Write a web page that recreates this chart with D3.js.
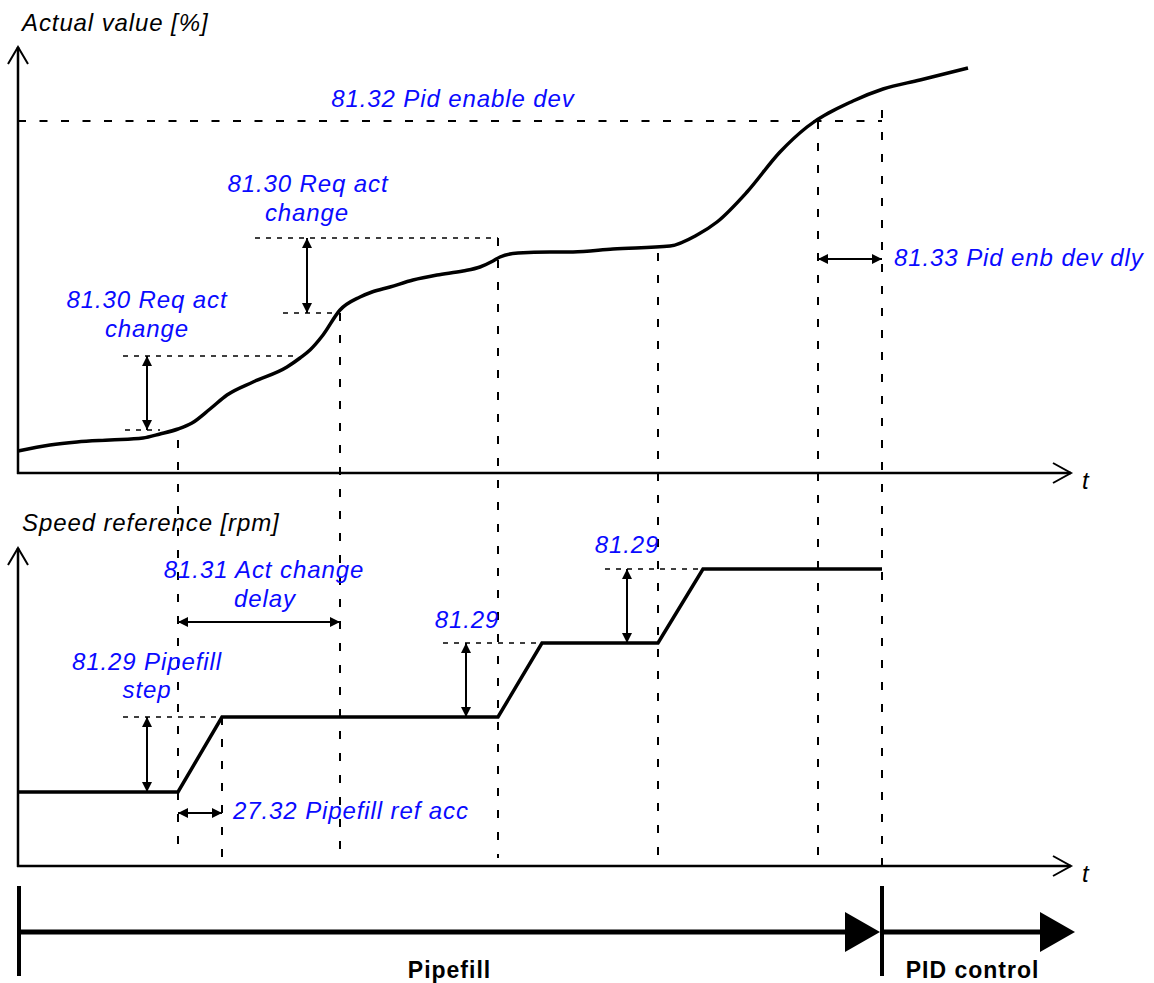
<!DOCTYPE html>
<html>
<head>
<meta charset="utf-8">
<script src="https://cdn.jsdelivr.net/npm/d3@7"></script>
<style>
  html, body { margin: 0; padding: 0; background: #fff; }
  svg { display: block; }
  .lbl { font-family: "Liberation Sans", Arial, sans-serif; font-style: italic; font-size: 24px; letter-spacing: 0.9px; }
  .bold { font-family: "Liberation Sans", Arial, sans-serif; font-weight: bold; font-size: 23px; letter-spacing: 1px; }
</style>
</head>
<body>
<svg id="chart" width="1154" height="983"></svg>
<script>
// ---------- DATA (time units, value units) ----------
const actualT = [0, 3.2, 5.9, 9.2, 12.5, 14.2, 16.0, 17.4, 19.2, 20.9, 23.5, 26.9, 28.2, 29.2, 30.5, 32.2, 34.2, 35.4, 37.2, 39.5, 41.9, 44.5, 46.2, 47.5, 48.2, 50.0, 53.2, 55.5, 59.5, 65.2, 67.9, 69.9, 72.9, 76.2, 78.9, 83.5, 86.5, 90.2, 95.0];
const actualV = [2.2, 2.8, 3.1, 3.3, 3.5, 3.9, 4.4, 5.0, 6.4, 7.8, 9.1, 10.6, 11.5, 12.3, 13.8, 16.3, 17.6, 18.1, 18.6, 19.3, 19.8, 20.2, 20.6, 21.2, 21.6, 22.0, 22.1, 22.1, 22.4, 22.7, 23.8, 25.1, 28.1, 32.1, 34.6, 37.2, 38.4, 39.3, 40.5];

const speedT = [0, 16.0, 20.4, 48.0, 52.4, 64.0, 68.5, 86.4];
const speedV = [7.4, 7.4, 14.9, 14.9, 22.3, 22.3, 29.7, 29.7];

// Parameter levels
const pidEnableDev = 35.2;          // 81.32 level on actual value
const reqAct1 = [4.3, 11.7];        // 81.30 first step (low, high)
const reqAct2 = [16.0, 23.5];       // 81.30 second step (low, high)
const pipefillStep = [7.4, 14.9];   // 81.29 Pipefill step
const step2 = [14.9, 22.3];         // 81.29
const step3 = [22.3, 29.7];         // 81.29

// Event times
const tStart = 16.0, tAccEnd = 20.4, tDelayEnd = 32.2, tStep2 = 48.0, tStep3 = 64.0, tDev = 80.0, tPid = 86.4;

// Vertical marker lines: time, top panel start value (null = start in bottom panel), bottom panel start value
const markers = [
  {t: tStart,    top: 3.3,  bot: null},
  {t: tAccEnd,   top: null, bot: 14.9},
  {t: tDelayEnd, top: 16.0, bot: null},
  {t: tStep2,    top: 23.5, bot: null},
  {t: tStep3,    top: 22.0, bot: null},
  {t: tDev,      top: 35.2, bot: null},
  {t: tPid,      top: 36.3, bot: null}
];

const phases = [
  {name: "Pipefill",    t0: 0.1,  t1: tPid},
  {name: "PID control", t0: tPid, t1: 105.7}
];

// ---------- SCALES ----------
const x = d3.scaleLinear().domain([0, 100]).range([18, 1018]);
const yTop = d3.scaleLinear().domain([0, 42.6]).range([473, 47]);
const yBot = d3.scaleLinear().domain([0, 31.8]).range([866, 548]);

const svg = d3.select("#chart");
const BLUE = "#0a0aff";

const defs = svg.append("defs");
defs.append("marker").attr("id", "ah").attr("viewBox", "0 0 10 10")
  .attr("refX", 10).attr("refY", 5).attr("markerWidth", 10).attr("markerHeight", 10)
  .attr("markerUnits", "userSpaceOnUse").attr("orient", "auto-start-reverse")
  .append("path").attr("d", "M0,0 L10,5 L0,10 Z").attr("fill", "#000");

function line(g, x1, y1, x2, y2, w, dash) {
  const l = g.append("line").attr("x1", x1).attr("y1", y1).attr("x2", x2).attr("y2", y2)
    .attr("stroke", "#000").attr("stroke-width", w);
  if (dash) l.attr("stroke-dasharray", dash);
  return l;
}
function dimArrow(g, x1, y1, x2, y2) {
  line(g, x1, y1, x2, y2, 2).attr("marker-start", "url(#ah)").attr("marker-end", "url(#ah)");
}
function text(g, str, xx, yy, anchor, cls, fill) {
  return g.append("text").attr("x", xx).attr("y", yy).attr("text-anchor", anchor || "start")
    .attr("class", cls).attr("fill", fill).text(str);
}

const g = svg.append("g");

// ---------- AXES ----------
function axisPair(yScale, yMax, yLabel, labelY) {
  const x0 = x(0), y0 = yScale(0);
  const tipY = yScale(yMax);
  line(g, x0, y0 + 1, x0, tipY, 2.5);
  g.append("path").attr("d", `M${x0 - 10},${tipY + 17} L${x0},${tipY} L${x0 + 10},${tipY + 17}`)
    .attr("fill", "none").attr("stroke", "#000").attr("stroke-width", 2);
  const tipX = x(105.3);
  line(g, x0 - 1, y0, tipX, y0, 2.5);
  g.append("path").attr("d", `M${tipX - 18},${y0 - 10} L${tipX},${y0} L${tipX - 18},${y0 + 10}`)
    .attr("fill", "none").attr("stroke", "#000").attr("stroke-width", 2);
  text(g, "t", tipX + 11, y0 + 16, "start", "lbl", "#000");
  text(g, yLabel, x0 + 4, labelY, "start", "lbl", "#000");
}
axisPair(yTop, 42.6, "Actual value [%]", 31);
axisPair(yBot, 31.8, "Speed reference [rpm]", 531);

// ---------- VERTICAL MARKERS ----------
markers.forEach(m => {
  const y1 = m.top !== null ? yTop(m.top) : yBot(m.bot);
  const y2 = m.t === tPid ? 875 : yBot(0.8);
  line(g, x(m.t), y1, x(m.t), y2, 2, "8,14");
});

// ---------- TOP PANEL ANNOTATIONS ----------
line(g, x(0), yTop(pidEnableDev), x(tPid), yTop(pidEnableDev), 2, "8,13.5");
text(g, "81.32 Pid enable dev", 453, 107, "middle", "lbl", BLUE);

line(g, x(10.7), yTop(reqAct1[0]), x(14.2), yTop(reqAct1[0]), 1.5, "5,6");
line(g, x(10.5), yTop(reqAct1[1]), x(27.9), yTop(reqAct1[1]), 1.5, "5,6");
dimArrow(g, x(12.9), yTop(reqAct1[1]), x(12.9), yTop(reqAct1[0]));
text(g, "81.30 Req act", 147, 308, "middle", "lbl", BLUE);
text(g, "change", 147, 337, "middle", "lbl", BLUE);

line(g, x(26.5), yTop(reqAct2[0]), x(tDelayEnd), yTop(reqAct2[0]), 1.5, "5,6");
line(g, x(23.7), yTop(reqAct2[1]), x(tStep2), yTop(reqAct2[1]), 1.5, "5,6");
dimArrow(g, x(28.9), yTop(reqAct2[1]), x(28.9), yTop(reqAct2[0]));
text(g, "81.30 Req act", 308, 192, "middle", "lbl", BLUE);
text(g, "change", 307, 221, "middle", "lbl", BLUE);

dimArrow(g, x(tDev), yTop(21.4), x(tPid), yTop(21.4));
text(g, "81.33 Pid enb dev dly", 894, 266, "start", "lbl", BLUE);

// ---------- ACTUAL VALUE CURVE ----------
const actual = actualT.map((t, i) => [t, actualV[i]]);
g.append("path").datum(actual)
  .attr("d", d3.line().x(d => x(d[0])).y(d => yTop(d[1])).curve(d3.curveMonotoneX))
  .attr("fill", "none").attr("stroke", "#000").attr("stroke-width", 3.5)
  .attr("stroke-linejoin", "round");

// ---------- BOTTOM PANEL ANNOTATIONS ----------
line(g, x(10.5), yBot(pipefillStep[1]), x(tAccEnd), yBot(pipefillStep[1]), 1.5, "5,6");
dimArrow(g, x(12.9), yBot(pipefillStep[1]), x(12.9), yBot(pipefillStep[0]));
text(g, "81.29 Pipefill", 147, 670, "middle", "lbl", BLUE);
text(g, "step", 147, 698, "middle", "lbl", BLUE);

dimArrow(g, x(tStart), yBot(5.3), x(tAccEnd), yBot(5.3));
text(g, "27.32 Pipefill ref acc", 233, 819, "start", "lbl", BLUE);

dimArrow(g, x(tStart), yBot(24.4), x(tDelayEnd), yBot(24.4));
text(g, "81.31 Act change", 264, 578, "middle", "lbl", BLUE);
text(g, "delay", 265, 607, "middle", "lbl", BLUE);

line(g, x(42.5), yBot(step2[1]), x(52.4), yBot(step2[1]), 1.5, "5,6");
dimArrow(g, x(44.8), yBot(step2[1]), x(44.8), yBot(step2[0]));
text(g, "81.29", 467, 628, "middle", "lbl", BLUE);

line(g, x(58.7), yBot(step3[1]), x(68.5), yBot(step3[1]), 1.5, "5,6");
dimArrow(g, x(60.9), yBot(step3[1]), x(60.9), yBot(step3[0]));
text(g, "81.29", 627, 553, "middle", "lbl", BLUE);

// ---------- SPEED REFERENCE ----------
const speed = speedT.map((t, i) => [t, speedV[i]]);
g.append("path").datum(speed)
  .attr("d", d3.line().x(d => x(d[0])).y(d => yBot(d[1])))
  .attr("fill", "none").attr("stroke", "#000").attr("stroke-width", 3.5)
  .attr("stroke-linejoin", "miter");

// ---------- PHASE ARROWS ----------
const phaseY = 932;
phases.forEach(p => {
  const xs = x(p.t0), xe = x(p.t1) - (p.name === "Pipefill" ? 2 : 0);
  line(g, xs, phaseY, xe - 32, phaseY, 5);
  g.append("path").attr("d", `M${xe - 35},${phaseY - 20} L${xe},${phaseY} L${xe - 35},${phaseY + 20} Z`).attr("fill", "#000");
  line(g, xs, 886, xs, 976, 4);
  text(g, p.name, (xs + xe) / 2 + (p.name === "Pipefill" ? 0 : -6), 978, "middle", "bold", "#000");
});
</script>
</body>
</html>
